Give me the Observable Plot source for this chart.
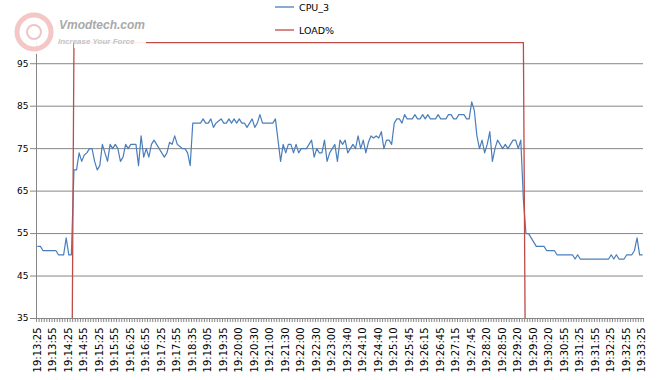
<!DOCTYPE html>
<html><head><meta charset="utf-8">
<script src="https://cdn.jsdelivr.net/npm/d3@7"></script>
<script src="https://cdn.jsdelivr.net/npm/@observablehq/plot@0.6"></script>
<style>
body{margin:0;background:#fff;}
#wrap{position:relative;width:666px;height:380px;font-family:"DejaVu Sans",sans-serif;}
#wrap svg{display:block}
.ov{position:absolute;pointer-events:none}
</style></head><body><div id="wrap"></div>
<script>
// x tick labels (every 6th sample)
const tickLabels = ["19:13:25","19:13:55","19:14:25","19:14:55","19:15:25","19:15:55","19:16:25","19:16:55","19:17:25","19:17:55",
"19:18:35","19:19:05","19:19:35","19:20:00","19:20:30","19:21:00","19:21:30","19:22:00","19:22:30","19:23:00",
"19:23:40","19:24:10","19:24:40","19:25:10","19:25:45","19:26:15","19:26:45","19:27:15","19:27:45","19:28:20",
"19:28:50","19:29:20","19:29:50","19:30:20","19:30:55","19:31:25","19:31:55","19:32:25","19:32:55","19:33:25"];
const labelStep = 6;
const yTicks = [35,45,55,65,75,85,95];

// CPU_3 temperature readings
const cpu3 = [
52,52,51,51,51,51,51,51,50,50,
50,54,50,50,70,70,74,72,73.5,74,
75,75,72,70,71,76,74,72,76,75,
76,75,72,73,76,75,76,76,76,71,
78,73,75,73,76,77,76,75,74,73,
74,76.5,76,78,76,75.5,75,75,74,71,
81,81,81,81,82,81,81,82,80,81,
81.5,82,81,81,82,81,82,81,82,81,
81,80,81,82,80,81,83,81,81,81,
81,81,82,77,72,76,74,76,76,74,
76,74,75,75,75,76,77,73,75,74,
74,77,72,74,75,76,72,77,76,77,
74,75,76,75,78,75,77,74,76.5,78,
77.5,78,77.5,79,75,77,77,76,81,82,
82,81,83,82,82,82,83,82,82,83,
82,83,82,82,82,83,82,82,82,83,
83,82,82,83,83,83,82,82,86,84,
78,75,77,74,76,79,72,75,77,76,
75,76,75,76,77,77,75,77,63,55,
55,54,53,52,52,52,52,51,51,51,
51,50,50,50,50,50,50,50,49,50,
49,49,49,49,49,49,49,49,49,49,
49,49,50,49,50,49,49,49,50,50,
50,51,54,50,50];

// LOAD% per sample
const load = [
0,0,0,0,0,0,0,0,0,0,0,0,0,0,
100,100,100,100,100,100,100,100,100,100,100,100,100,100,100,100,100,100,100,100,100,100,100,100,100,
100,100,100,100,100,100,100,100,100,100,100,100,100,100,100,100,100,100,100,100,100,100,100,100,100,
100,100,100,100,100,100,100,100,100,100,100,100,100,100,100,100,100,100,100,100,100,100,100,100,100,
100,100,100,100,100,100,100,100,100,100,100,100,100,100,100,100,100,100,100,100,100,100,100,100,100,
100,100,100,100,100,100,100,100,100,100,100,100,100,100,100,100,100,100,100,100,100,100,100,100,100,
100,100,100,100,100,100,100,100,100,100,100,100,100,100,100,100,100,100,100,100,100,100,100,100,100,
100,100,100,100,100,100,100,100,100,100,100,100,100,100,100,100,100,100,100,100,100,100,100,100,100,
0,0,0,0,0,0,0,0,0,0,0,0,0,0,0,0,0,0,0,0,0,0,0,0,0,
0,0,0,0,0,0,0,0,0,0,0,0,0,0,0,0,0,0,0,0,0];

const seriesNames = ["CPU_3","LOAD%"];
const seriesColors = ["#4A7EBB","#BE4B48"];

const n = cpu3.length;
const idx = cpu3.map((_, i) => i);
const boundaries = idx.map(i => i - 0.5).concat([n - 0.5]);
const labelIdx = tickLabels.map((_, k) => k * labelStep);
const grey = "#868686";

const chart = Plot.plot({
  width: 666, height: 380,
  marginLeft: 36, marginRight: 23, marginTop: 42, marginBottom: 62,
  style: {fontFamily: "DejaVu Sans", fontSize: "9px", color: "#000", background: "#fff", overflow: "visible"},
  x: {type: "linear", domain: [-0.5, n - 0.5]},
  y: {domain: [35, 100]},
  marks: [
    Plot.gridY(yTicks, {stroke: grey, strokeOpacity: 1}),
    Plot.axisY(yTicks, {tickSize: 6, tickPadding: 2, stroke: grey, fill: "#000", fontSize: 9, label: null}),
    Plot.axisX(boundaries, {tickSize: 4, stroke: grey, tickFormat: () => "", label: null}),
    Plot.axisX(labelIdx, {tickSize: 0, tickPadding: 9, tickRotate: -90, fontSize: 10, fill: "#000",
      tickFormat: i => tickLabels[i / labelStep], label: null}),
    Plot.ruleY([35], {stroke: grey}),
    Plot.ruleX([-0.5], {stroke: grey}),
    Plot.line(idx, {x: i => i, y: i => cpu3[i], stroke: seriesColors[0], strokeWidth: 1.2}),
    Plot.line(idx, {x: i => i, y: i => load[i], stroke: seriesColors[1], strokeWidth: 1.3, clip: true})
  ]
});
const wrap = document.getElementById("wrap");
wrap.appendChild(chart);

// watermark (text overlay)
const wm = document.createElement("div");
wm.className = "ov";
wm.style.cssText = "left:10px;top:8px;width:136px;height:46px;";
wm.innerHTML = `
<div style="position:absolute;left:0;top:0;width:48px;height:46px;background:rgba(255,255,255,0.9)"></div>
<div style="position:absolute;left:64px;top:29px;width:72px;height:11px;background:rgba(255,255,255,0.9)"></div>
<svg width="48" height="46" style="position:absolute;left:2px;top:2px">
  <circle cx="22" cy="22" r="17" fill="none" stroke="#f2b8b8" stroke-width="5" opacity="0.8"/>
  <circle cx="22" cy="22" r="7" fill="none" stroke="#f0c4c4" stroke-width="2"/>
</svg>
<div style="position:absolute;left:49px;top:10px;font:italic bold 12px 'Liberation Sans',sans-serif;color:#a9a9a9;white-space:nowrap">Vmodtech.com</div>
<div style="position:absolute;left:48px;top:29px;font:italic bold 8px 'Liberation Sans',sans-serif;color:#c4c4c4;white-space:nowrap">Increase Your Force</div>`;
wrap.appendChild(wm);

// legend
const lg = document.createElement("div");
lg.className = "ov";
lg.style.cssText = "left:275px;top:0;width:120px;height:40px;";
lg.innerHTML = seriesNames.map((s, k) => `
<div style="position:absolute;left:0;top:${k * 23}px;height:14px;display:flex;align-items:center;white-space:nowrap">
<svg width="19" height="14"><line x1="0" x2="19" y1="7" y2="7" stroke="${seriesColors[k]}" stroke-width="1.3"/></svg>
<span style="margin-left:5px;font:9.5px 'DejaVu Sans',sans-serif;color:#000">${s}</span></div>`).join("");
wrap.appendChild(lg);
</script>
</body></html>
